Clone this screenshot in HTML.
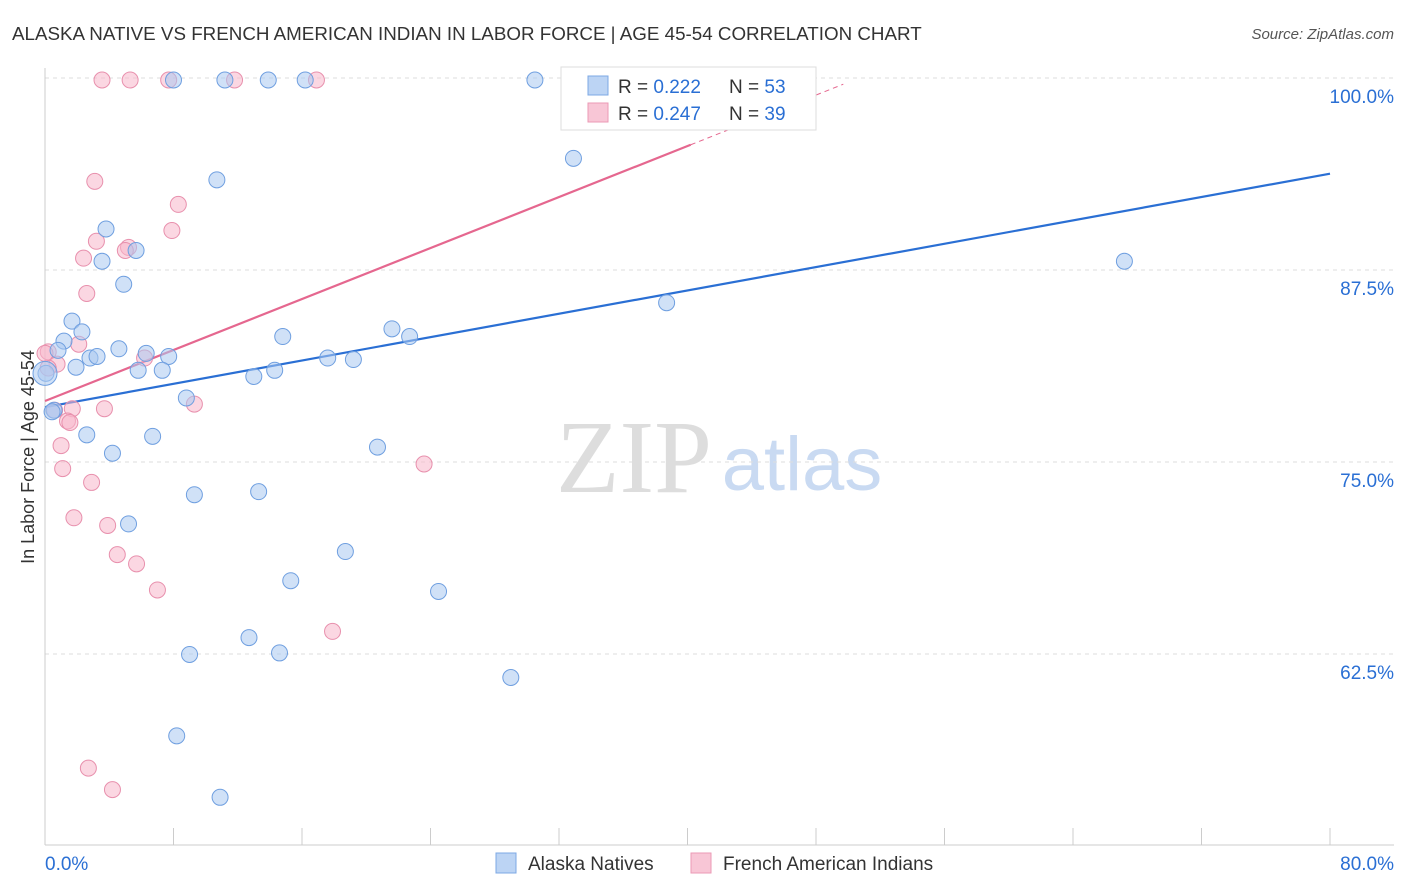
<!DOCTYPE html>
<html><head><meta charset="utf-8"><style>
body{margin:0;background:#fff;font-family:"Liberation Sans",sans-serif;}
svg{display:block}
</style></head><body>
<svg width="1406" height="892" id="c">
<text x="12" y="40" font-size="18.8" fill="#333">ALASKA NATIVE VS FRENCH AMERICAN INDIAN IN LABOR FORCE | AGE 45-54 CORRELATION CHART</text>
<text x="1394" y="39" font-size="15" fill="#555" text-anchor="end" font-style="italic">Source: ZipAtlas.com</text>
<text transform="translate(34,457) rotate(-90)" font-size="18" fill="#333" text-anchor="middle">In Labor Force | Age 45-54</text>
<g><text x="634" y="492" font-size="104" fill="#ddd" font-family="Liberation Serif,serif" text-anchor="middle">ZIP</text><text x="802" y="490" font-size="76" fill="#c9daf2" text-anchor="middle">atlas</text></g>
<g id="grid"></g><g id="axes"></g><g id="lines"></g><g id="pts"></g>
<g>
<rect x="561" y="67" width="255" height="63" fill="#fff" stroke="#ddd"/>
<rect x="588" y="76" width="20" height="19" fill="#bcd4f4" stroke="#7da8e4"/>
<text x="618" y="93" font-size="19" fill="#333">R = <tspan fill="#2a6fd4">0.222</tspan></text>
<text x="729" y="93" font-size="19" fill="#333">N = <tspan fill="#2a6fd4">53</tspan></text>
<rect x="588" y="103" width="20" height="19" fill="#f8c6d6" stroke="#eb9ab5"/>
<text x="618" y="120" font-size="19" fill="#333">R = <tspan fill="#2a6fd4">0.247</tspan></text>
<text x="729" y="120" font-size="19" fill="#333">N = <tspan fill="#2a6fd4">39</tspan></text>
</g>
<g>
<rect x="496" y="853" width="20" height="20" fill="#bcd4f4" stroke="#7da8e4"/>
<text x="528" y="870" font-size="19" fill="#333">Alaska Natives</text>
<rect x="691" y="853" width="20" height="20" fill="#f8c6d6" stroke="#eb9ab5"/>
<text x="723" y="870" font-size="19" fill="#333">French American Indians</text>
</g>
<text x="45" y="870" font-size="19" fill="#2a6fd4">0.0%</text>
<text x="1394" y="870" font-size="19" fill="#2a6fd4" text-anchor="end">80.0%</text>
</svg>
<script>
const yTicks=[100,87.5,75,62.5];
const yTickLabels=["100.0%","87.5%","75.0%","62.5%"];
const blueX=[8.0,11.2,13.9,16.2,30.5,44.8,32.9,10.7,3.8,3.55,5.67,4.9,1.68,2.3,1.18,0.81,2.8,3.24,4.6,6.3,7.7,1.93,5.8,7.3,0.06,0.56,8.8,13.0,14.3,14.8,17.6,19.2,21.6,22.7,38.7,67.2,2.6,6.7,4.2,20.7,9.3,13.3,5.2,18.7,15.3,24.5,12.7,9.0,14.6,29.0,8.2,10.9,0.44];
const blueY=[100,100,100,100,100,100,94.9,93.5,90.3,88.2,88.9,86.7,84.3,83.6,83.0,82.4,81.9,82.0,82.5,82.2,82.0,81.3,81.1,81.1,80.9,78.5,79.3,80.7,81.1,83.3,81.9,81.8,83.8,83.3,85.5,88.2,76.9,76.8,75.7,76.1,73.0,73.2,71.1,69.3,67.4,66.7,63.7,62.6,62.7,61.1,57.3,53.3,78.4];
const pinkX=[3.55,5.3,7.7,11.8,16.9,35.1,3.1,8.3,7.9,3.2,5.2,5.0,2.4,2.6,2.1,6.2,0.2,0.75,0.2,0.6,1.7,3.7,1.4,1.55,9.3,1.0,1.1,2.9,1.8,3.9,4.5,5.7,7.0,23.6,17.9,2.7,4.2,0];
const pinkY=[100,100,100,100,100,100,93.4,91.9,90.2,89.5,89.1,88.9,88.4,86.1,82.8,81.9,82.3,81.5,81.25,78.5,78.6,78.6,77.8,77.7,78.9,76.2,74.7,73.8,71.5,71.0,69.1,68.5,66.8,75.0,64.1,55.2,53.8,82.2];
const blueTrend=[78.7,93.9];
const pinkTrend=[79.1,0.415];
const NS="http://www.w3.org/2000/svg";
const sx=v=>45+v*1285/80, sy=v=>80+(100-v)*15.36;
function mk(t,a,p){const e=document.createElementNS(NS,t);for(const k in a)e.setAttribute(k,a[k]);p.appendChild(e);return e;}
const grid=document.getElementById('grid'),axes=document.getElementById('axes'),lines=document.getElementById('lines'),pts=document.getElementById('pts');
yTicks.forEach((v,i)=>{
 const l=mk('line',{x1:45,x2:1394,y1:sy(v)-2,y2:sy(v)-2,stroke:'#ddd','stroke-dasharray':'4,4'},grid);
 
 
 const t=mk('text',{x:1394,y:sy(v)+23,'font-size':19,fill:'#2a6fd4','text-anchor':'end'},grid);
 t.textContent=yTickLabels[i];
 
 
});
mk('line',{x1:45,x2:45,y1:68,y2:845,stroke:'#ccc'},axes);
mk('line',{x1:45,x2:1394,y1:845,y2:845,stroke:'#ccc'},axes);
for(let i=0;i<=10;i++){const t=mk('line',{x1:sx(i*8),x2:sx(i*8),y1:828,y2:845,stroke:'#ccc'},axes);
 
 }
function dot(x,y,f,s,r){const c=mk('circle',{cx:sx(x),cy:sy(y),r:r||8,fill:f,'fill-opacity':0.55,stroke:s,'stroke-width':1},pts);return c;}
pinkX.forEach((x,i)=>{const c=dot(x,pinkY[i],'#f7b6cb','#e890ad');
 
 });
blueX.forEach((x,i)=>{const c=dot(x,blueY[i],'#a9c8f0','#6f9fe0');
 
 });
const big=dot(0,80.9,'#a9c8f0','#6f9fe0',12);


const bl=mk('line',{x1:sx(0),y1:sy(blueTrend[0]),x2:sx(80),y2:sy(blueTrend[1]),stroke:'#2a6fd4','stroke-width':2.2},lines);


const pe=40.2;
const pl=mk('line',{x1:sx(0),y1:sy(pinkTrend[0]),x2:sx(pe),y2:sy(pinkTrend[0]+pinkTrend[1]*pe),stroke:'#e5678f','stroke-width':2.2},lines);


const pd=mk('line',{x1:sx(pe),y1:sy(pinkTrend[0]+pinkTrend[1]*pe),x2:sx(49.7),y2:sy(pinkTrend[0]+pinkTrend[1]*49.7),stroke:'#e5678f','stroke-width':1,'stroke-dasharray':'5,4'},lines);


</script>
</body></html>
